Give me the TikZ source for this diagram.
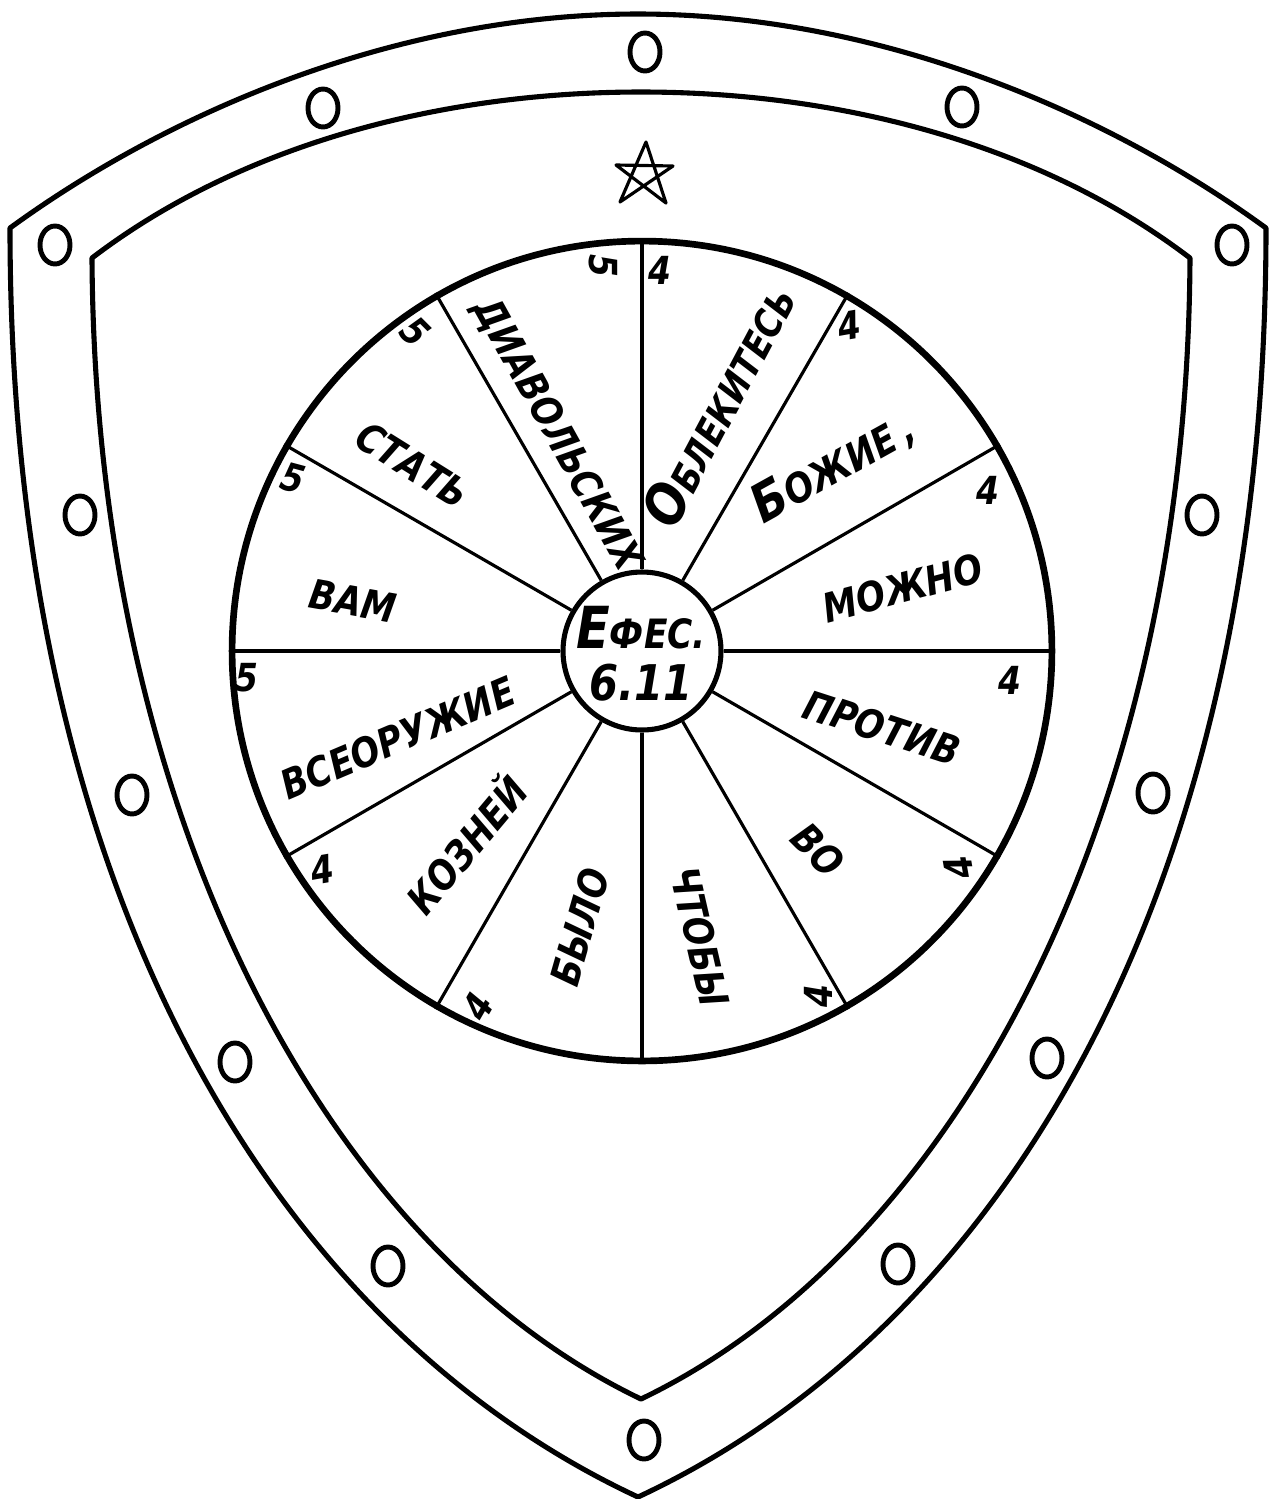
\documentclass[tikz,border=0pt]{standalone}
\usepackage{fontspec}
\newfontfamily\handfont[FakeStretch=0.85]{DejaVu Sans}

\begin{document}
\begin{tikzpicture}[
        x=0.02cm, y=-0.02cm,
        word/.style={font=\handfont\bfseries\itshape\fontsize{23}{26}\selectfont, inner sep=0pt},
        num/.style={font=\handfont\bfseries\itshape\fontsize{22}{24}\selectfont, inner sep=0pt},
        spoke/.style={line width=1.8pt}
    ]

    \tikzset{
    rim/.style={line width=2.9pt, line join=round},
    rivet/.style={line width=2.8pt, x radius=0.30cm, y radius=0.38cm}
}

    \useasboundingbox (0,0) rectangle (1271,1499);

    % shield
    \draw[rim] (10,228) .. controls (172,110) and (400,14) .. (638,14)
        .. controls (876,14) and (1104,110) .. (1266,228)
        .. controls (1266,900) and (996,1330) .. (638,1497)
        .. controls (280,1330) and (10,900) .. cycle;
    \draw[rim] (92,258) .. controls (240,145) and (440,92) .. (641,92)
        .. controls (842,92) and (1042,145) .. (1190,258)
        .. controls (1187,820) and (952,1250) .. (641,1399)
        .. controls (330,1250) and (95,820) .. cycle;

    % rivets
    \draw[rivet] (645,52) ellipse [];
    \draw[rivet] (323,108) ellipse [];
    \draw[rivet] (962,107) ellipse [];
    \draw[rivet] (55,245) ellipse [];
    \draw[rivet] (1232,245) ellipse [];
    \draw[rivet] (80,515) ellipse [];
    \draw[rivet] (1202,515) ellipse [];
    \draw[rivet] (132,795) ellipse [];
    \draw[rivet] (1153,793) ellipse [];
    \draw[rivet] (235,1062) ellipse [];
    \draw[rivet] (1047,1058) ellipse [];
    \draw[rivet] (388,1266) ellipse [];
    \draw[rivet] (898,1264) ellipse [];
    \draw[rivet] (644,1440) ellipse [];

    % star
    \coordinate (s1) at (646,142);
    \coordinate (s2) at (620,202);
    \coordinate (s3) at (673,166);
    \coordinate (s4) at (616,165);
    \coordinate (s5) at (666,203);
    \draw[line width=1.8pt, line join=round] (s1) -- (s2) -- (s3) -- (s4) -- (s5) -- cycle;

    % wheel
    \node[draw, circle, line width=3.8pt, minimum size=16.4cm, inner sep=0pt] (wheel) at (642,651) {};
    \node[draw, circle, line width=2.9pt, minimum size=3.16cm, inner sep=0pt] (hub) at (642,651) {};

    \draw[spoke] (hub.0) -- (wheel.0);
    \draw[spoke] (hub.30) -- (wheel.30);
    \draw[spoke] (hub.60) -- (wheel.60);
    \draw[spoke] (hub.90) -- (wheel.90);
    \draw[spoke] (hub.120) -- (wheel.120);
    \draw[spoke] (hub.150) -- (wheel.150);
    \draw[spoke] (hub.180) -- (wheel.180);
    \draw[spoke] (hub.210) -- (wheel.210);
    \draw[spoke] (hub.240) -- (wheel.240);
    \draw[spoke] (hub.270) -- (wheel.270);
    \draw[spoke] (hub.300) -- (wheel.300);
    \draw[spoke] (hub.330) -- (wheel.330);

    % verse
    \node[word] (efes) at (641,628) {\fontsize{33}{35}\selectfont Е\fontsize{23}{26}\selectfont ФЕС.};
    \node[word] (ref) at (641,683) {\fontsize{28}{30}\selectfont 6.11};

    \node[word, rotate=62] (w1) at (718,405) {\fontsize{32}{34}\selectfont О\fontsize{22}{26}\selectfont БЛЕКИТЕСЬ};
    \node[word, rotate=29] (w2) at (833,467) {\fontsize{30}{34}\selectfont Б\fontsize{23}{26}\selectfont ОЖИЕ\,,};
    \node[word, rotate=15] (w3) at (903,588) {МОЖНО};
    \node[word, rotate=-18] (w4) at (882,728) {ПРОТИВ};
    \node[word, rotate=-45] (w5) at (818,850) {ВО};
    \node[word, rotate=-77] (w6) at (700,937) {ЧТОБЫ};
    \node[word, rotate=74] (w7) at (580,927) {БЫЛО};
    \node[word, rotate=50] (w8) at (465,843) {КОЗНЕЙ};
    \node[word, rotate=23] (w9) at (398,738) {ВСЕОРУЖИЕ};
    \node[word, rotate=-10] (w10) at (353,601) {ВАМ};
    \node[word, rotate=-32] (w11) at (413,465) {СТАТЬ};
    \node[word, rotate=-61] (w12) at (557,435) {ДИАВОЛЬСКИХ};

    % counts
    \node[num] (n1) at (660,270) {4};
    \node[num, rotate=10] (n2) at (849,326) {4};
    \node[num] (n3) at (988,490) {4};
    \node[num] (n4) at (1010,680) {4};
    \node[num, rotate=100] (n5) at (959,868) {4};
    \node[num, rotate=90] (n6) at (818,996) {4};
    \node[num, rotate=60] (n7) at (478,1007) {4};
    \node[num, rotate=10] (n8) at (322,870) {4};
    \node[num] (n9) at (247,678) {5};
    \node[num, rotate=-15] (n10) at (293,478) {5};
    \node[num, rotate=-45] (n11) at (415,332) {5};
    \node[num, rotate=-90] (n12) at (603,266) {5};
    \end{tikzpicture}
\end{document}
